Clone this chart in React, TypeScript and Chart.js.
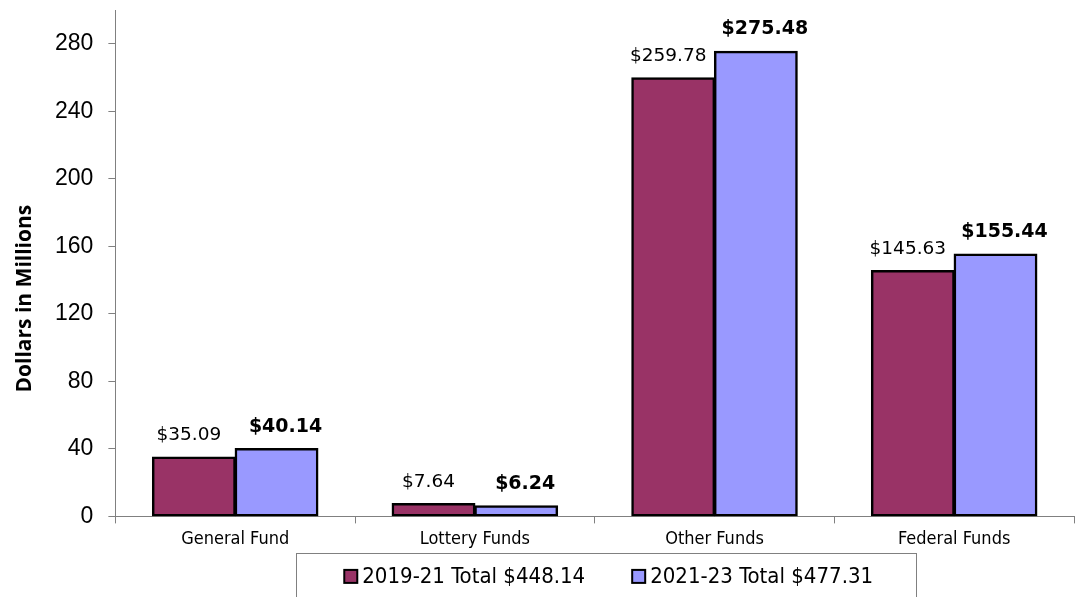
import React, { useEffect, useRef } from 'react';
import { Chart, registerables } from 'chart.js';

Chart.register(...registerables);

const categories = ['General Fund', 'Lottery Funds', 'Other Funds', 'Federal Funds'];
const series2019 = [35.09, 7.64, 259.78, 145.63];
const series2021 = [40.14, 6.24, 275.48, 155.44];
const seriesLabels = ['2019-21 Total $448.14', '2021-23 Total $477.31'];
const yTicks = [0, 40, 80, 120, 160, 200, 240, 280];
const yTitle = 'Dollars in Millions';

const COLOR_A = '#993366';
const COLOR_B = '#9999FF';
const AXIS = '#808080';

const dataLabelPlugin = {
  id: 'dataLabels',
  afterDatasetsDraw(chart: any) {
    const ctx = chart.ctx;
    ctx.save();
    ctx.textAlign = 'center';
    ctx.textBaseline = 'alphabetic';
    ctx.fillStyle = '#000';
    chart.data.datasets.forEach((ds: any, i: number) => {
      const meta = chart.getDatasetMeta(i);
      ctx.font = i === 0 ? '18.5px "DejaVu Sans"' : 'bold 19px "DejaVu Sans"';
      const dx = i === 0 ? -5 : 9;
      meta.data.forEach((el: any, j: number) => {
        const v = ds.data[j] as number;
        ctx.fillText('$' + v.toFixed(2), el.x + dx, el.y - 17);
      });
    });
    ctx.restore();
  },
};

const legendAndTitlePlugin = {
  id: 'legendAndTitle',
  afterDraw(chart: any) {
    const ctx = chart.ctx;
    const area = chart.chartArea;
    ctx.save();
    // y axis title
    ctx.translate(area.left - 90, area.top + (area.bottom - area.top) * 0.57);
    ctx.rotate(-Math.PI / 2);
    ctx.font = 'bold 21px "Open Sans"';
    ctx.fillStyle = '#000';
    ctx.textAlign = 'center';
    ctx.textBaseline = 'middle';
    ctx.fillText(yTitle, 0, 0);
    ctx.restore();

    // legend
    ctx.save();
    const boxW = 620;
    const cx = (area.left + area.right) / 2 + 11;
    const top = area.bottom + 37;
    ctx.strokeStyle = AXIS;
    ctx.lineWidth = 1;
    ctx.strokeRect(Math.round(cx - boxW / 2) + 0.5, Math.round(top) + 0.5, boxW, 80);
    ctx.font = '22px "DejaVu Sans Condensed"';
    ctx.textBaseline = 'middle';
    ctx.textAlign = 'left';
    const sw = 13;
    const gapBox = 5;
    const gapItem = 47;
    const items = chart.data.datasets.map((ds: any) => ({
      text: ds.label as string,
      color: ds.backgroundColor as string,
      w: ctx.measureText(ds.label).width,
    }));
    const total = items.reduce((s: number, it: any) => s + sw + gapBox + it.w, 0) + gapItem * (items.length - 1);
    let x = cx + 3 - total / 2;
    const cy = top + 23;
    items.forEach((it: any) => {
      ctx.fillStyle = it.color;
      ctx.fillRect(x, cy - sw / 2, sw, sw);
      ctx.strokeStyle = '#000';
      ctx.lineWidth = 2;
      ctx.strokeRect(x, cy - sw / 2, sw, sw);
      ctx.fillStyle = '#000';
      ctx.fillText(it.text, x + sw + gapBox, cy + 1);
      x += sw + gapBox + it.w + gapItem;
    });
    ctx.restore();
  },
};

export default function App() {
  const ref = useRef<HTMLCanvasElement | null>(null);
  useEffect(() => {
    if (!ref.current) return;
    const chart = new Chart(ref.current, {
      type: 'bar',
      data: {
        labels: categories,
        datasets: [
          {
            label: seriesLabels[0],
            data: series2019,
            backgroundColor: COLOR_A,
            borderColor: '#000',
            borderWidth: 2.5,
            borderSkipped: false,
            inflateAmount: 0.6,
            barPercentage: 1,
            categoryPercentage: 0.69,
          },
          {
            label: seriesLabels[1],
            data: series2021,
            backgroundColor: COLOR_B,
            borderColor: '#000',
            borderWidth: 2.5,
            borderSkipped: false,
            inflateAmount: 0.6,
            barPercentage: 1,
            categoryPercentage: 0.69,
          },
        ],
      },
      options: {
        animation: false,
        responsive: false,
        maintainAspectRatio: false,
        layout: { padding: { left: 40, right: 3, top: 10, bottom: 42 } },
        plugins: {
          tooltip: { enabled: false },
          legend: { display: false },
        },
        scales: {
          x: {
            grid: {
              display: true,
              drawOnChartArea: false,
              offset: true,
              tickLength: 7,
              color: AXIS,
            },
            border: { display: true, color: AXIS },
            ticks: {
              font: { family: '"DejaVu Sans Condensed"', size: 18 },
              color: '#000',
              padding: 5,
            },
          },
          y: {
            min: 0,
            max: 300,
            afterBuildTicks: (axis: any) => {
              axis.ticks = yTicks.map((v) => ({ value: v }));
            },
            afterFit: (scale: any) => {
              scale.paddingTop = 0;
              scale.paddingBottom = 0;
            },
            grid: {
              display: true,
              drawOnChartArea: false,
              tickLength: 7,
              color: AXIS,
            },
            border: { display: true, color: AXIS },
            ticks: {
              font: { family: '"Liberation Sans"', size: 23 },
              color: '#000',
              padding: 15,
            },
          },
        },
      },
      plugins: [dataLabelPlugin, legendAndTitlePlugin],
    });
    return () => chart.destroy();
  }, []);
  return (
    <div style={{ position: 'fixed', left: 0, top: 0, width: 1077, height: 597, background: '#fff' }}>
      <canvas ref={ref} width={1077} height={597} style={{ display: 'block' }} />
    </div>
  );
}
